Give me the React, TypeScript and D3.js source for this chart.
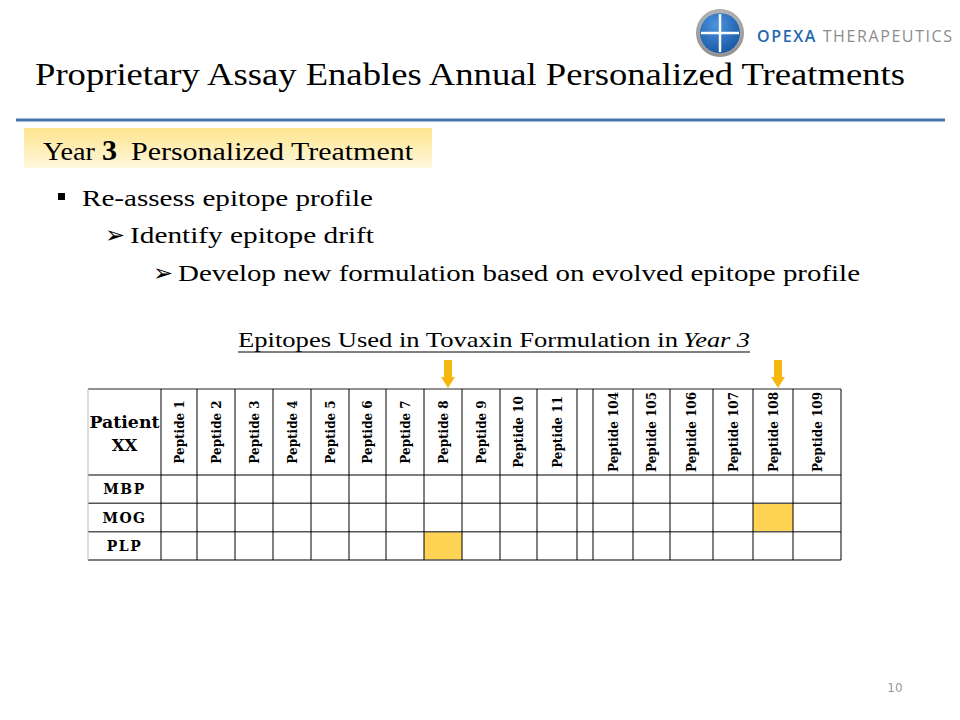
import * as d3 from 'd3';

// table content
const columns = [
  'Peptide 1', 'Peptide 2', 'Peptide 3', 'Peptide 4', 'Peptide 5', 'Peptide 6',
  'Peptide 7', 'Peptide 8', 'Peptide 9', 'Peptide 10', 'Peptide 11', '',
  'Peptide 104', 'Peptide 105', 'Peptide 106', 'Peptide 107', 'Peptide 108', 'Peptide 109',
];
const rows = ['MBP', 'MOG', 'PLP'];
const selected = [
  { row: 'PLP', col: 'Peptide 8' },
  { row: 'MOG', col: 'Peptide 108' },
];
const arrowCols = ['Peptide 8', 'Peptide 108'];

const bullets = [
  { level: 0, text: 'Re-assess epitope profile' },
  { level: 1, text: 'Identify epitope drift' },
  { level: 2, text: 'Develop new formulation based on evolved epitope profile' },
];

// layout (column widths in px, not data)
const colWidths = [36, 38, 38, 38, 38, 37, 38, 38, 38, 37, 40, 16, 40, 37, 43, 40, 40, 48];

const serif = '"Liberation Serif", serif';
const tableFont = '"DejaVu Serif", serif';

export default function App() {
  const tableLeft = 88;
  const firstCol = 161;
  const tableTop = 389;
  const headBottom = 475;
  const tableBottom = 560;

  const edges = d3.cumsum([0, ...colWidths]).map(v => v + firstCol);
  const xLeft = d3.scaleOrdinal<string, number>().domain(columns.map((c, i) => c + '#' + i)).range(edges);
  const colKey = (c: string) => c + '#' + columns.indexOf(c);
  const colW = (c: string) => colWidths[columns.indexOf(c)];

  const y = d3.scaleBand().domain(rows).range([headBottom, tableBottom]);

  const bulletX = [82, 130, 178];
  const bulletBase = [206, 243, 281];
  const bulletLen = [291, 244, 682];

  const hLines = [tableTop, headBottom, ...rows.map(r => (y(r) ?? 0) + y.bandwidth())];
  const vLines = [tableLeft, ...edges];

  return (
    <svg width={960} height={720} style={{ position: 'absolute', left: 0, top: 0, background: '#fff' }}>
      <defs>
        <linearGradient id="yearGrad" x1="0" y1="0" x2="0" y2="1">
          <stop offset="0" stopColor="#FDE58E" />
          <stop offset="1" stopColor="#FFF7DC" />
        </linearGradient>
        <radialGradient id="logoRim" cx="0.5" cy="0.4" r="0.6">
          <stop offset="0" stopColor="#E4E4E4" />
          <stop offset="1" stopColor="#8E8E8E" />
        </radialGradient>
        <radialGradient id="logoBlue" cx="0.4" cy="0.3" r="0.8">
          <stop offset="0" stopColor="#4C95E0" />
          <stop offset="1" stopColor="#12529F" />
        </radialGradient>
      </defs>

      {/* logo */}
      <g>
        <circle cx={720} cy={33} r={24} fill="url(#logoRim)" />
        <circle cx={720} cy={33} r={20} fill="url(#logoBlue)" />
        <line x1={720} y1={14} x2={720} y2={52} stroke="#fff" strokeWidth={2.5} />
        <line x1={701} y1={33} x2={739} y2={33} stroke="#fff" strokeWidth={2.5} />
        <text x={757} y={42} fontFamily='"Open Sans", sans-serif' fontSize={16} letterSpacing={1.6}>
          <tspan fill="#2467B0" fontWeight={600}>OPEXA</tspan>
          <tspan fill="#8C8C8C"> THERAPEUTICS</tspan>
        </text>
      </g>

      {/* title */}
      <text x={35} y={85} fontFamily={serif} fontSize={32} textLength={870} lengthAdjust="spacingAndGlyphs" fill="#000">
        Proprietary Assay Enables Annual Personalized Treatments
      </text>
      <line x1={16} x2={945} y1={120} y2={120} stroke="#4A77AA" strokeWidth={3} />

      {/* year box */}
      <rect x={24} y={128} width={408} height={40} fill="url(#yearGrad)" />
      <text y={160} fontFamily={serif} fill="#000">
        <tspan x={43} fontSize={25} textLength={52} lengthAdjust="spacingAndGlyphs">Year</tspan>
        <tspan x={102} fontSize={30} fontWeight="bold">3</tspan>
        <tspan x={131} fontSize={25} textLength={282} lengthAdjust="spacingAndGlyphs">Personalized Treatment</tspan>
      </text>

      {/* bullets */}
      {bullets.map((b, i) => (
        <g key={i}>
          {b.level === 0 ? (
            <rect x={58} y={193} width={7} height={7} fill="#000" />
          ) : (
            <text x={bulletX[b.level] - 25} y={bulletBase[i]} fontFamily='"DejaVu Sans", sans-serif' fontSize={24} fill="#000">
              ➢
            </text>
          )}
          <text x={bulletX[b.level]} y={bulletBase[i]} fontFamily={serif} fontSize={24}
            textLength={bulletLen[i]} lengthAdjust="spacingAndGlyphs" fill="#000">
            {b.text}
          </text>
        </g>
      ))}

      {/* caption */}
      <text x={238} y={347} fontFamily={serif} fontSize={21} textLength={440} lengthAdjust="spacingAndGlyphs" fill="#000">
        Epitopes Used in Tovaxin Formulation in
      </text>
      <text x={683} y={347} fontFamily={serif} fontSize={21} fontStyle="italic" textLength={67} lengthAdjust="spacingAndGlyphs" fill="#000">
        Year 3
      </text>
      <line x1={238} x2={750} y1={352} y2={352} stroke="#000" strokeWidth={1} />

      {/* arrows */}
      {arrowCols.map(c => {
        const cx = xLeft(colKey(c)) + colW(c) / 2 + 5;
        return (
          <path key={c}
            d={`M${cx - 4},360 L${cx + 4},360 L${cx + 4},377 L${cx + 7},377 L${cx},388 L${cx - 7},377 L${cx - 4},377 Z`}
            fill="#F6B70F" />
        );
      })}

      {/* highlighted cells */}
      {selected.map((s, i) => (
        <rect key={i} x={xLeft(colKey(s.col))} y={y(s.row)} width={colW(s.col)} height={y.bandwidth()} fill="#FFD455" />
      ))}

      {/* grid */}
      {hLines.map((v, i) => (
        <line key={'h' + i} x1={tableLeft} x2={edges[edges.length - 1]} y1={v} y2={v}
          stroke={i === 0 ? '#222' : '#555'} strokeWidth={i === 0 ? 1 : 1.5} />
      ))}
      {vLines.map((v, i) => (
        <line key={'v' + i} x1={v} x2={v} y1={tableTop} y2={tableBottom}
          stroke={i === 0 ? '#bbb' : '#000'} strokeWidth={1} />
      ))}

      {/* header */}
      <text x={(tableLeft + firstCol) / 2} y={428} textAnchor="middle" fontFamily={tableFont} fontWeight="bold" fontSize={16.5}
        textLength={70} lengthAdjust="spacingAndGlyphs" fill="#000">
        Patient
      </text>
      <text x={(tableLeft + firstCol) / 2} y={451} textAnchor="middle" fontFamily={tableFont} fontWeight="bold" fontSize={16.5} fill="#000">
        XX
      </text>
      {columns.map(c => c && (
        <text key={c}
          transform={`translate(${xLeft(colKey(c)) + colW(c) / 2 + 4.5},${(tableTop + headBottom) / 2}) rotate(-90)`}
          textAnchor="middle" fontFamily={tableFont} fontWeight="bold" fontSize={12} fill="#000">
          {c}
        </text>
      ))}
      {rows.map(r => (
        <text key={r} x={(tableLeft + firstCol) / 2} y={(y(r) ?? 0) + y.bandwidth() / 2 + 5}
          textAnchor="middle" fontFamily={tableFont} fontWeight="bold" fontSize={14} letterSpacing={1.5} fill="#000">
          {r}
        </text>
      ))}

      {/* page number */}
      <text x={895} y={692} textAnchor="middle" fontFamily='"DejaVu Sans", sans-serif' fontSize={12} fill="#999">
        10
      </text>
    </svg>
  );
}
